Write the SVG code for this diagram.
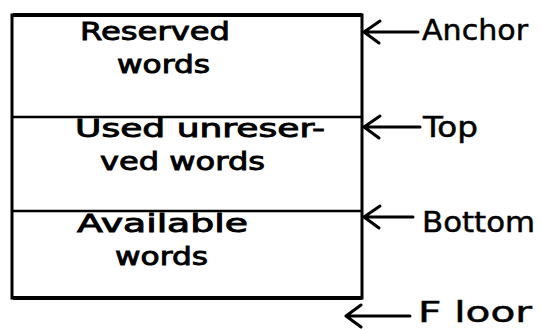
<svg xmlns="http://www.w3.org/2000/svg" width="540" height="329" viewBox="0 0 540 329">
<style>
.box{fill:none;stroke:#000;stroke-width:3}
.div{stroke:#000;stroke-width:2.5}
.t{font-family:"DejaVu Sans",sans-serif;font-size:25px;fill:#000;stroke:#000;stroke-width:0.9}
.l{font-family:"DejaVu Sans",sans-serif;font-size:28px;fill:#000;stroke:#000;stroke-width:0.5}
.arr{fill:none;stroke:#000;stroke-width:3;stroke-linecap:round;stroke-linejoin:round}
</style>
<rect width="540" height="329" fill="#fff"/>
<g id="stack">
<path class="box" d="M12,15 L362,15 L362,298 L12,298 Z"/>
<line x1="13" y1="15" x2="362" y2="15" stroke="#000" stroke-width="4"/>
<line x1="13" y1="298" x2="362" y2="298" stroke="#000" stroke-width="4"/>
</g>
<g id="reserved">
<text class="t" x="80" y="40" textLength="150" lengthAdjust="spacingAndGlyphs">Reserved</text>
<text class="t" x="117" y="73" textLength="93" lengthAdjust="spacingAndGlyphs">words</text>
</g>
<g id="used">
<line class="div" x1="13" y1="117" x2="362" y2="117"/>
<text class="t" x="75" y="137" textLength="250" lengthAdjust="spacingAndGlyphs">Used unreser-</text>
<text class="t" x="100" y="170" textLength="165" lengthAdjust="spacingAndGlyphs">ved words</text>
</g>
<g id="available">
<line class="div" x1="13" y1="211" x2="362" y2="211"/>
<text class="t" x="77" y="232" textLength="171" lengthAdjust="spacingAndGlyphs">Available</text>
<text class="t" x="115" y="265" textLength="93" lengthAdjust="spacingAndGlyphs">words</text>
</g>
<g id="connectors">
<path class="arr" d="M418,32 L364,32 M380,21 L364,32 L379,43"/>
<path class="arr" d="M420,127 L364,127 M380,116 L364,127 L379,138"/>
<path class="arr" d="M413,217 L364,217 M380,206 L364,217 L379,228"/>
<path class="arr" d="M410,316 L346,316 M361,305 L346,316 L361,327"/>
</g>
<g id="labels">
<text class="l" x="422" y="40" textLength="106" lengthAdjust="spacingAndGlyphs">Anchor</text>
<text class="l" x="423" y="137" textLength="55" lengthAdjust="spacingAndGlyphs">Top</text>
<text class="l" x="422" y="232" textLength="113" lengthAdjust="spacingAndGlyphs">Bottom</text>
<text class="l" x="418" y="322" font-size="25" textLength="114" lengthAdjust="spacingAndGlyphs">F loor</text>
</g>
</svg>
